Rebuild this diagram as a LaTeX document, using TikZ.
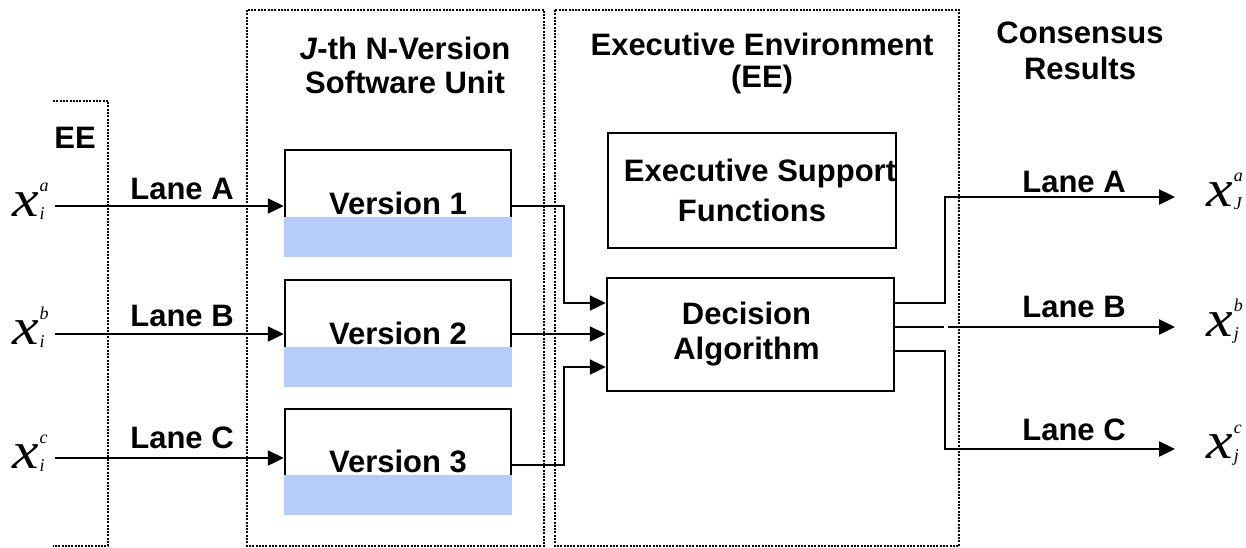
\documentclass[tikz,border=0pt]{standalone}
\usepackage{fontspec}
\setmainfont{Liberation Sans}
\newfontfamily\xserif{Liberation Serif}
\usetikzlibrary{arrows.meta,calc}
\definecolor{bandblue}{RGB}{182,204,250}
\newcommand{\xvar}[2]{{\xserif\itshape\fontsize{52}{52}\selectfont\scalebox{1.15}[1]{x}}\kern1pt{\xserif\itshape\fontsize{18}{18}\selectfont\rlap{\raisebox{25pt}{#1}}\raisebox{-3pt}{#2}}}
\begin{document}
\begin{tikzpicture}[x=1pt,y=-1pt,
  txt/.style={font=\fontsize{31}{34}\selectfont\bfseries},
  lbl/.style={txt, inner sep=0pt},
  dotbox/.style={line width=2.2pt, dash pattern=on 2pt off 1.3pt},
  box/.style={txt, draw, line width=2.5pt, inner sep=0pt, align=center},
  line/.style={line width=2.4pt},
  arr/.style={line width=2.4pt, -{Triangle[length=16pt,width=15pt]}},
  xv/.style={inner sep=0pt, anchor=base west}
]
\useasboundingbox (0,0) rectangle (1246,547);

% dotted regions
\draw[dotbox] (53,101) -- (108,101) -- (108,546) -- (53,546);
\draw[dotbox] (247,10) rectangle (544,546);
\draw[dotbox] (555,10) rectangle (959,546);

% titles
\node[lbl, anchor=base] (ee) at (75,148) {EE};
\node[lbl, align=center] (t2) at (405,65) {\textit{J}-th N-Version\\Software Unit};
\node[lbl, align=center, font=\fontsize{31}{32}\selectfont\bfseries] (t3) at (762,63) {Executive Environment\\(EE)};
\node[lbl, align=center, font=\fontsize{31}{36}\selectfont\bfseries] (t4) at (1080,51) {Consensus\\Results};

% version boxes
\node[box, minimum width=226pt, minimum height=106pt] (v1) at (398,203) {Version 1};
\node[box, minimum width=226pt, minimum height=106pt] (v2) at (398,333) {Version 2};
\node[box, minimum width=226pt, minimum height=105pt] (v3) at (398,461.5) {Version 3};
\fill[bandblue] ($(v1.south west)+(0,-40)$) rectangle (v1.south east);
\fill[bandblue] ($(v2.south west)+(0,-40)$) rectangle (v2.south east);
\fill[bandblue] ($(v3.south west)+(0,-40)$) rectangle (v3.south east);

% EE boxes
\node[box, minimum width=288pt, minimum height=115pt, font=\fontsize{31}{40}\selectfont\bfseries] (esf) at (752,190.5) {\hspace*{16pt}Executive Support\\Functions};
\node[box, minimum width=287pt, minimum height=113pt, font=\fontsize{31}{35}\selectfont\bfseries] (dec) at (750.5,334.5) {Decision\hspace*{8pt}\\Algorithm\hspace*{8pt}};

% inputs
\node[xv] (xa) at (12,216) {\xvar{a}{i}};
\node[xv] (xb) at (12,344) {\xvar{b}{i}};
\node[xv] (xc) at (12,468) {\xvar{c}{i}};
\coordinate (iA) at (55,206);
\coordinate (iB) at (55,334);
\coordinate (iC) at (55,458);
\draw[arr] (iA) -- (iA -| v1.west);
\draw[arr] (iB) -- (iB -| v2.west);
\draw[arr] (iC) -- (iC -| v3.west);
\node[lbl, anchor=base] (la) at (182,199) {Lane A};
\node[lbl, anchor=base] (lb) at (182,326) {Lane B};
\node[lbl, anchor=base] (lc) at (182,448) {Lane C};

% version outputs to decision
\coordinate (v1o) at ([yshift=-3pt]v1.east);
\coordinate (v2o) at ([yshift=-1pt]v2.east);
\coordinate (v3o) at ([yshift=-3.5pt]v3.east);
\coordinate (d1) at ([yshift=31.5pt]dec.west);
\coordinate (d3) at ([yshift=-32.5pt]dec.west);
\draw[arr] (v1o) -| ($(d1)+(-42,0)$) -- (d1);
\draw[arr] (v2o) -- (v2o -| dec.west);
\draw[arr] (v3o) -| ($(d3)+(-42,0)$) -- (d3);

% decision outputs
\coordinate (e1) at ([yshift=31.5pt]dec.east);
\coordinate (e2) at ([yshift=7.5pt]dec.east);
\coordinate (e3) at ([yshift=-16.5pt]dec.east);
\coordinate (oA) at (1175,197);
\coordinate (oB) at (1175,327);
\coordinate (oC) at (1175,449);
\draw[arr] (e1) -| ($(oA)+(-230,0)$) -- (oA);
\draw[line] (e2) -- ($(e2)+(49,0)$);
\draw[arr] ($(e2)+(53,0)$) -- (oB);
\draw[arr] (e3) -| ($(oC)+(-230,0)$) -- (oC);
\node[lbl, anchor=base] (ra) at (1074,192) {Lane A};
\node[lbl, anchor=base] (rb) at (1074,317) {Lane B};
\node[lbl, anchor=base] (rc) at (1074,440) {Lane C};
\node[xv] (ya) at (1206,206) {\xvar{a}{J}};
\node[xv] (yb) at (1206,336) {\xvar{b}{j}};
\node[xv] (yc) at (1206,458) {\xvar{c}{j}};
\end{tikzpicture}
\end{document}
